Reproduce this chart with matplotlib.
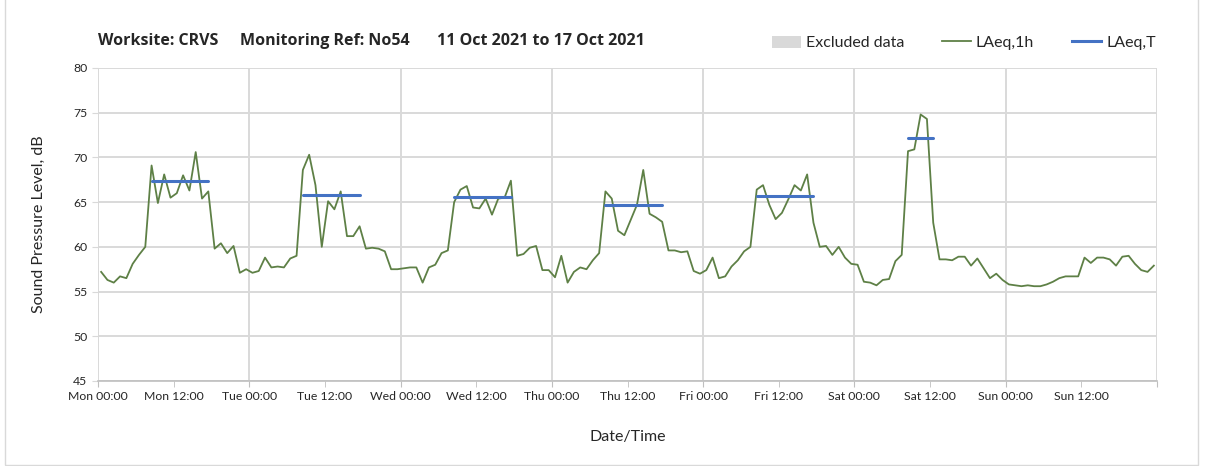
import matplotlib
matplotlib.use('Agg')
import matplotlib.pyplot as plt
import numpy as np
from matplotlib.patches import Patch, Rectangle
from matplotlib.lines import Line2D

plt.rcParams['font.family'] = ['Lato', 'DejaVu Sans']

# hourly LAeq,1h values, Mon 00:00 -> Sun 23:00
laeq_1h = [57.2, 56.3, 56.0, 56.7, 56.5, 58.1, 59.1, 60.0, 69.1, 64.9, 68.1, 65.5,
           66.0, 68.0, 66.3, 70.6, 65.4, 66.2, 59.8, 60.4, 59.3, 60.1, 57.1, 57.5,
           57.1, 57.3, 58.8, 57.7, 57.8, 57.7, 58.7, 59.0, 68.6, 70.3, 66.9, 60.0,
           65.1, 64.2, 66.2, 61.2, 61.2, 62.3, 59.8, 59.9, 59.8, 59.5, 57.5, 57.5,
           57.6, 57.7, 57.7, 56.0, 57.7, 58.0, 59.3, 59.6, 65.0, 66.4, 66.8, 64.4,
           64.3, 65.4, 63.6, 65.4, 65.5, 67.4, 59.0, 59.2, 59.9, 60.1, 57.4, 57.4,
           56.6, 59.0, 56.0, 57.2, 57.7, 57.5, 58.5, 59.3, 66.2, 65.4, 61.8, 61.3,
           63.0, 64.7, 68.6, 63.7, 63.3, 62.8, 59.6, 59.6, 59.4, 59.5, 57.3, 57.0,
           57.4, 58.8, 56.5, 56.7, 57.8, 58.5, 59.5, 60.0, 66.4, 66.9, 64.7, 63.1,
           63.8, 65.3, 66.9, 66.3, 68.1, 62.7, 60.0, 60.1, 59.1, 60.0, 58.8, 58.1,
           58.0, 56.1, 56.0, 55.7, 56.3, 56.4, 58.4, 59.1, 70.7, 70.9, 74.8, 74.3,
           62.7, 58.6, 58.6, 58.5, 58.9, 58.9, 57.9, 58.7, 57.6, 56.5, 57.0, 56.3,
           55.8, 55.7, 55.6, 55.7, 55.6, 55.6, 55.8, 56.1, 56.5, 56.7, 56.7, 56.7,
           58.8, 58.2, 58.8, 58.8, 58.6, 57.9, 58.9, 59.0, 58.1, 57.4, 57.2, 57.9]

# LAeq,T working periods (hour index start/end) and values
period_start = [8, 32, 56, 80, 104, 128]
period_end = [17, 41, 65, 89, 113, 132]
laeq_t = [67.4, 65.8, 65.6, 64.7, 65.7, 72.2]

days = ['Mon', 'Tue', 'Wed', 'Thu', 'Fri', 'Sat', 'Sun']
title_parts = ['Worksite: CRVS', 'Monitoring Ref: No54', '11 Oct 2021 to 17 Oct 2021']

green = '#5E8046'
blue = '#4472C4'
grid_c = '#d9d9d9'
text_c = '#262626'

fig = plt.figure(figsize=(12.05, 4.66), dpi=100)
ax = fig.add_axes([98/1205, 1-381/466, (1157-98)/1205, (381-68)/466])

hours = np.arange(len(laeq_1h)) + 0.5
ax.plot(hours, laeq_1h, color=green, lw=1.3, zorder=3)
for s, e, v in zip(period_start, period_end, laeq_t):
    ax.plot([s + 0.5, e + 0.5], [v, v], color=blue, lw=2.2, solid_capstyle='round', zorder=4)

ax.set_xlim(0, 168)
ax.set_ylim(45, 80)
ax.set_yticks(range(45, 81, 5))
ax.set_xticks(range(0, 169, 24))
ax.set_xticklabels([d + ' 00:00' for d in days] + [''])
ax.set_xticks(range(12, 168, 24), minor=True)
ax.set_xticklabels([d + ' 12:00' for d in days], minor=True)

ax.grid(True, which='major', color=grid_c, lw=1.4, zorder=0)
for sp in ['top', 'right', 'left']:
    ax.spines[sp].set_visible(False)
ax.spines['bottom'].set_color('#bfbfbf')
ax.spines['bottom'].set_linewidth(1.2)
ax.tick_params(axis='x', which='both', length=4, color='#bfbfbf', labelsize=8.8,
               labelcolor=text_c, pad=3)
ax.tick_params(axis='y', length=4, color=grid_c, labelsize=8.8, labelcolor=text_c)

ax.set_ylabel('Sound Pressure Level, dB', fontsize=11.5, color=text_c, labelpad=20)
ax.set_xlabel('Date/Time', fontsize=11.5, color=text_c, labelpad=20)

# title in three pieces, as in the report header
for part, x0 in zip(title_parts, [98, 240, 437]):
    fig.text(x0/1205, 1-41/466, part, fontsize=11.5, fontweight='bold', color=text_c,
             va='center', ha='left', family=['Open Sans', 'DejaVu Sans'])

handles = [Patch(facecolor='#d9d9d9', edgecolor='none'),
           Line2D([], [], color=green, lw=1.3),
           Line2D([], [], color=blue, lw=2.2)]
fig.legend(handles, ['Excluded data', 'LAeq,1h', 'LAeq,T'], ncol=3, frameon=False,
           loc='center right', bbox_to_anchor=(1170/1205, 1-43/466), fontsize=11.5,
           handlelength=1.8, handletextpad=0.3, columnspacing=2.4, labelcolor=text_c,
           handleheight=0.8)

fig.patches.append(Rectangle((5/1205, 0.002), 1193/1205, 1.05, transform=fig.transFigure,
                             fill=False, edgecolor='#d9d9d9', lw=1))

fig.savefig('out.png', dpi=100, facecolor='white')
